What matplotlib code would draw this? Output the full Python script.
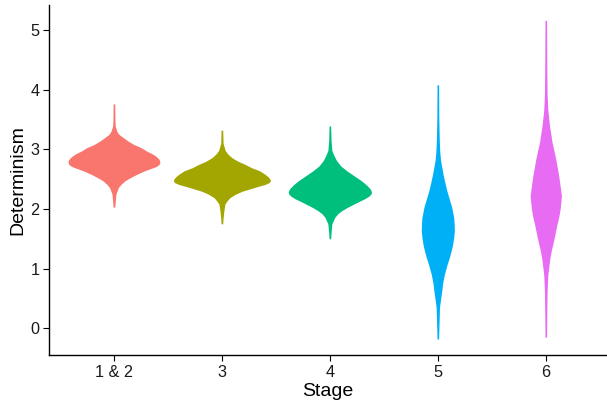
import matplotlib.pyplot as plt

plt.rcParams["font.family"] = ["Liberation Sans", "DejaVu Sans"]

stages = ["1 & 2", "3", "4", "5", "6"]
colors = ["#F8766D", "#A3A500", "#00BF7D", "#00B0F6", "#E76BF3"]

# density profiles: (Determinism value, relative density)
y_12 = [3.76, 3.5, 3.39, 3.3, 3.25, 3.2, 3.14, 3.08, 3.03, 2.97, 2.92, 2.88, 2.85, 2.82,
        2.79, 2.76, 2.73, 2.70, 2.67, 2.64, 2.58, 2.52, 2.47, 2.41, 2.36, 2.25, 2.1, 2.03]
d_12 = [0.8, 1.0, 1.3, 3, 5, 9, 14, 20, 27, 33, 39, 42.5, 44.5, 45.8,
        46.3, 46, 44.5, 41, 36, 31, 23, 16, 11, 7, 4.5, 2, 1.2, 0.8]

y_3 = [3.32, 3.1, 2.98, 2.92, 2.86, 2.80, 2.75, 2.69, 2.64, 2.58, 2.54, 2.50, 2.47, 2.44,
       2.41, 2.38, 2.34, 2.30, 2.25, 2.19, 2.13, 2.08, 1.97, 1.85, 1.75]
d_3 = [0.8, 1.2, 3.3, 6, 10, 16, 23, 30, 38, 43.5, 46.5, 48.5, 49, 47.5,
       43.5, 37, 29, 21, 14, 8, 5, 3, 2, 1.2, 0.8]

y_4 = [3.39, 3.15, 2.98, 2.9, 2.81, 2.72, 2.64, 2.56, 2.47, 2.40, 2.34, 2.29, 2.25, 2.21,
       2.17, 2.13, 2.08, 2.02, 1.97, 1.92, 1.86, 1.75, 1.6, 1.50]
d_4 = [0.8, 1.2, 2, 4, 6.7, 11, 17, 24, 32, 37, 40.5, 42, 41.5, 39,
       35, 30, 24, 17, 12, 8, 5, 2, 1.2, 0.8]

y_5 = [4.08, 3.5, 3.14, 2.95, 2.81, 2.7, 2.58, 2.45, 2.31, 2.17, 2.03, 1.86, 1.75, 1.63,
       1.52, 1.41, 1.3, 1.19, 1.05, 0.91, 0.77, 0.63, 0.49, 0.35, 0.07, -0.18]
d_5 = [0.8, 1.0, 1.5, 2, 2.8, 4, 5.3, 7, 9, 11.5, 14, 16, 16.5, 16.7,
       16, 15, 13.5, 11.7, 9, 6.7, 5, 4, 2.8, 1.7, 1.2, 0.8]

y_6 = [5.16, 4.5, 3.95, 3.67, 3.39, 3.12, 2.84, 2.56, 2.38, 2.22, 2.0, 1.86, 1.72, 1.58,
       1.44, 1.30, 1.16, 1.0, 0.88, 0.6, 0.2, -0.15]
d_6 = [0.8, 1.0, 1.3, 2, 3.8, 6.3, 10, 13, 14.5, 15.8, 14.5, 13, 11, 9.3,
       7.5, 5.5, 4, 2.8, 2, 1.3, 1.0, 0.8]

profiles = [(y_12, d_12), (y_3, d_3), (y_4, d_4), (y_5, d_5), (y_6, d_6)]

fig = plt.figure(figsize=(6.07, 4.04), dpi=100)
ax = fig.add_axes([0.081, 0.121, 0.919, 0.867])

# widest violin gets 0.9 total width, like ggplot's scale = "area"
dmax = max(max(d) for _, d in profiles)
for i, (ys, ds) in enumerate(profiles):
    pos = i + 1
    half = [0.45 * d / dmax for d in ds]
    left = [pos - h for h in half]
    right = [pos + h for h in half]
    ax.fill_betweenx(ys, left, right, color=colors[i], linewidth=0)

ax.set_xlim(0.4, 5.567)
ax.set_ylim(-0.45, 5.42)
ax.set_xticks(range(1, len(stages) + 1))
ax.set_xticklabels(stages)
ax.set_yticks([0, 1, 2, 3, 4, 5])

for side in ["top", "right"]:
    ax.spines[side].set_visible(False)
for side in ["left", "bottom"]:
    ax.spines[side].set_linewidth(1.0)
    ax.spines[side].set_color("black")

ax.tick_params(axis="both", length=4, width=0.8, colors="black",
               labelsize=11.7, labelcolor="#1a1a1a", pad=3)
ax.set_xlabel("Stage", fontsize=14, labelpad=2)
ax.set_ylabel("Determinism", fontsize=14, labelpad=3)

fig.savefig("out.png", dpi=100)
